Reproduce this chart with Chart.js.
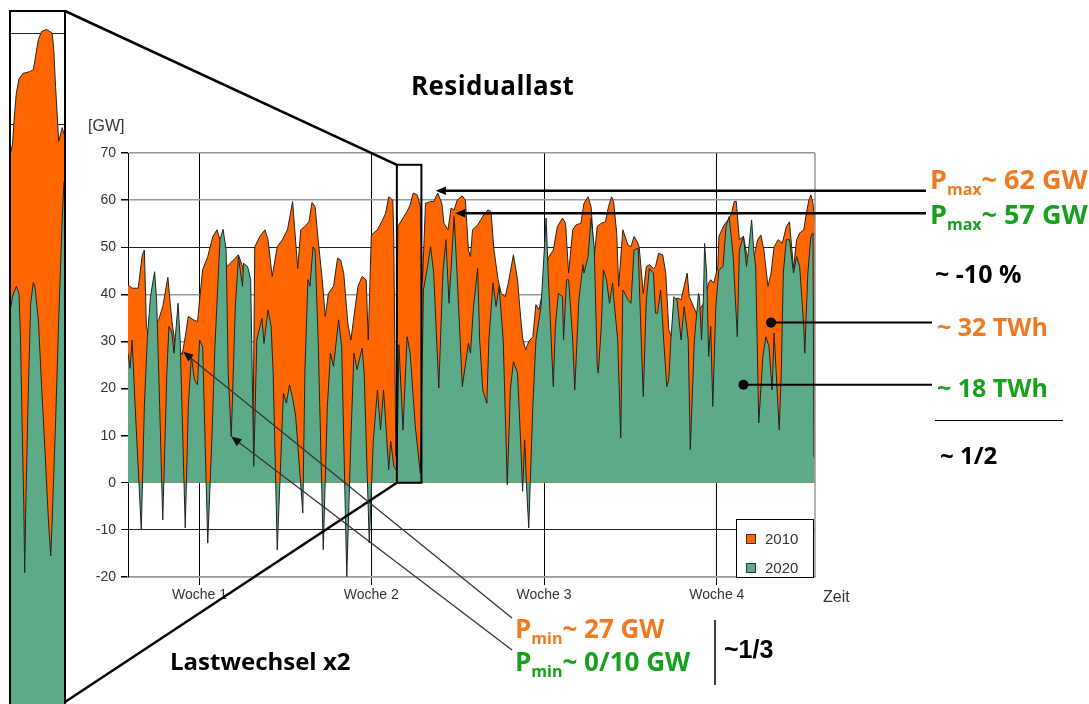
<!DOCTYPE html>
<html>
<head>
<meta charset="utf-8">
<script src="https://cdn.jsdelivr.net/npm/chart.js@4.4.1/dist/chart.umd.min.js"></script>
<style>
  body { margin: 0; background: #fff; }
  #wrap { position: relative; width: 1089px; height: 704px; overflow: hidden; }
  #main { position: absolute; left: 0; top: 0; }
  #zoombox { position: absolute; left: 9px; top: 10px; width: 53px; height: 700px; border: 2px solid #000; background: #fff; overflow: hidden; }
  .t { position: absolute; white-space: nowrap; line-height: 1; font-family: "Open Sans", sans-serif; font-weight: 700; }
  .t sub { font-size: 16px; vertical-align: -6px; line-height: 0; }
  .small { font-family: "Liberation Sans", Arial, sans-serif; font-weight: 400; font-size: 16px; color: #333; }
  .orange { color: #f07a22; }
  .green { color: #17a01c; }
  #legend { position: absolute; left: 736px; top: 519px; width: 76px; height: 57px; border: 1px solid #000; background: #fff;
            font: 15px "Liberation Sans", Arial, sans-serif; color: #333; }
  #legend div { position: absolute; left: 9px; line-height: 16px; }
  #legend span { display: inline-block; width: 8px; height: 8px; border: 1px solid #333; margin-right: 9px; vertical-align: 0; }
</style>
</head>
<body>
<div id="wrap">
  <canvas id="main" width="1089" height="704"></canvas>
  <div id="zoombox"><canvas id="zoom" width="53" height="700"></canvas></div>

  <div class="t" style="left:411px;top:72px;font-size:26px;letter-spacing:0.4px">Residuallast</div>
  <div class="t small" style="left:88px;top:118px">[GW]</div>
  <div class="t small" style="left:823px;top:589px">Zeit</div>

  <div class="t orange" style="left:930px;top:165px;font-size:27px">P<sub>max</sub>~ 62 GW</div>
  <div class="t green" style="left:930px;top:200px;font-size:27px">P<sub>max</sub>~ 57 GW</div>
  <div class="t" style="left:935px;top:261px;font-size:25px">~ -10 %</div>
  <div class="t orange" style="left:937px;top:314px;font-size:25px">~ 32 TWh</div>
  <div class="t green" style="left:937px;top:375px;font-size:25px">~ 18 TWh</div>
  <div class="t" style="left:940px;top:443px;font-size:24px">~ 1/2</div>

  <div class="t orange" style="left:515px;top:615px;font-size:26px">P<sub>min</sub>~ 27 GW</div>
  <div class="t green" style="left:515px;top:648px;font-size:26px">P<sub>min</sub>~ 0/10 GW</div>
  <div class="t" style="left:724px;top:637px;font-size:25px;font-family:'Liberation Sans',Arial,sans-serif">~1/3</div>
  <div class="t" style="left:170px;top:649px;font-size:24px">Lastwechsel x2</div>

  <div id="legend">
    <div style="top:11px"><span style="background:#ff6600"></span>2010</div>
    <div style="top:40px"><span style="background:#5daa88"></span>2020</div>
  </div>
</div>

<script>
// x in hours over four weeks, y in GW
const weekHours = [70, 238, 407, 576]
const weekLabels = ["Woche 1", "Woche 2", "Woche 3", "Woche 4"]

const hours2010 = [0, 4, 10, 14, 16, 18, 20, 24, 30, 34, 39, 41, 43, 46, 53, 56, 59, 64, 68, 71, 73, 78, 83, 87, 90, 97, 100, 105, 108, 112,
  117, 122, 124, 129, 134, 137, 141, 146, 151, 156, 161, 166, 169, 173, 177, 180, 183, 186, 190, 193, 196, 201, 205, 208, 211, 215, 218,
  221, 225, 229, 233, 235, 238, 244, 249, 252, 255, 259, 260, 262, 264, 269, 273, 276, 279, 283, 286, 288, 291, 296, 299, 303, 307, 309,
  313, 316, 319, 322, 327, 330, 333, 335, 337, 342, 345, 348, 352, 355, 358, 362, 365, 369, 372, 377, 381, 384, 386, 389, 392, 396, 399,
  402, 406, 411, 416, 420, 425, 428, 431, 435, 438, 443, 446, 450, 453, 456, 459, 463, 467, 470, 473, 475, 478, 480, 484, 489, 492, 495,
  498, 500, 504, 507, 510, 514, 516, 519, 523, 526, 529, 532, 534, 538, 541, 544, 547, 549, 556, 563, 568, 570, 573, 577, 578, 583, 587,
  590, 593, 595, 598, 602, 605, 608, 613, 616, 619, 622, 626, 629, 632, 636, 640, 644, 647, 651, 654, 657, 661, 663, 666, 668, 670, 672]
const load2010 = [42, 41.3, 41.3, 48.4, 49.4, 33.2, 31, 32.8, 34.6, 37.4, 43.6, 38.8, 34.2, 29.6, 27.2, 31, 35.3, 34.6, 34.2, 40.9, 45.2,
  48, 52.3, 53.7, 51.6, 45.9, 46.6, 47.7, 48.4, 45.9, 40, 3.5, 50.1, 52.3, 53.7, 51.6, 43.8, 50.1, 51.6, 53.7, 59.7, 45.5, 53.7, 54.4,
  55.4, 59.5, 58.6, 51.6, 43.1, 35.3, 40.2, 41.7, 47.7, 47.3, 44.5, 33.9, 30.3, 35.3, 41.7, 43.8, 43.1, 30.3, 52.6, 53.7, 55.8, 57.2,
  60.7, 60, 51.6, 5.6, 54.4, 56.2, 57.6, 59, 61.5, 61.1, 58.6, 42.4, 59.3, 59.7, 59.7, 61.5, 59.3, 55.1, 53.7, 58.3, 57.9, 60, 60.9, 60,
  49.4, 48, 53.7, 54.7, 55.8, 56.9, 57.9, 57.6, 49.4, 43.1, 40.2, 39.5, 42.4, 48.4, 43.1, 35.3, 30.7, 28.2, 30, 31, 37.8, 36.7, 41, 47.7,
  49.4, 54.4, 56.2, 55.1, 44.5, 53.7, 54.7, 55.1, 59.3, 60.7, 58.6, 48, 54.4, 55.1, 55.4, 58.6, 60.7, 59.7, 53, 41.7, 53.7, 50.5, 50.1,
  52.3, 51.2, 50.1, 40.2, 45.9, 46.3, 45.5, 45.9, 48.7, 48.4, 44.5, 32.5, 30.7, 38.8, 39.2, 38.8, 41.7, 44.5, 39.5, 36, 38, 42.4, 43.1,
  42.4, 45.9, 52.3, 54.7, 55.8, 56.9, 59.7, 59.7, 51.6, 52.3, 48.7, 45.9, 48.7, 51.6, 52.6, 49.4, 41.7, 44.5, 50.1, 51.6, 50.8, 54.4,
  55.4, 45.5, 51.6, 53, 53.7, 56.5, 60, 61.1, 59.3, 55]

const hours2020 = [0, 2, 4, 7, 13, 16, 19, 22, 26, 28, 31, 34, 38, 40, 43, 45, 49, 51, 56, 59, 62, 65, 68, 70, 73, 78, 82, 85, 90, 93, 96,
  98, 101, 105, 108, 112, 113, 117, 120, 123, 126, 131, 133, 137, 140, 142, 146, 152, 155, 158, 161, 164, 171, 173, 176, 178, 181, 183,
  186, 191, 195, 198, 201, 206, 209, 214, 218, 221, 224, 229, 231, 236, 240, 244, 247, 250, 255, 257, 260, 263, 265, 269, 273, 276, 281,
  286, 289, 293, 296, 299, 304, 308, 311, 314, 319, 322, 327, 333, 335, 338, 342, 344, 347, 348, 351, 353, 357, 360, 363, 367, 371, 374,
  377, 381, 384, 386, 388, 390, 392, 396, 399, 404, 409, 411, 416, 418, 421, 425, 426, 429, 431, 435, 437, 441, 445, 446, 450, 453, 456,
  459, 460, 463, 465, 468, 471, 474, 475, 479, 482, 484, 485, 489, 492, 495, 499, 502, 504, 507, 510, 514, 516, 518, 521, 524, 527, 529,
  531, 534, 537, 541, 544, 548, 550, 554, 558, 559, 561, 563, 564, 566, 568, 570, 572, 575, 578, 582, 585, 588, 592, 596, 598, 602, 605,
  607, 610, 612, 614, 617, 621, 624, 627, 630, 632, 637, 639, 641, 644, 647, 651, 654, 657, 661, 662, 665, 668, 670, 671, 672]
const load2020 = [27.5, 24.3, 30.3, 16.2, -10, 16.2, 31, 39.5, 44.8, 38.8, 16.2, -7.9, 23.3, 33.2, 31.8, 27.5, 38.1, 30.3, -9.6, 16.2,
  26.8, 21.9, 20.8, 30.3, 28.9, -12.8, 9.1, 28.9, 51.6, 53.8, 49.4, 23.3, 9.8, 37.4, 48, 41.7, 46.6, 45.9, 43.1, 3.5, 30.3, 34.9, 29.6,
  36.7, 33.2, 23.3, -14.2, 19, 16.9, 20.8, 18, 14.1, -6.4, 23.3, 43.1, 41.7, 50.1, 49.4, 30.3, -14.2, 16.2, 27.5, 24.7, 34.6, 28.9, -19.9,
  9.1, 27.5, 24, 28.6, 23.3, -12.8, 9.1, 19.7, 11.2, 19.7, 2.8, 8.8, 3.5, 2.5, 29.3, 11.2, 31, 27.5, 12, 2, 40.9, 45.9, 50.1, 44.5, 20.1,
  44.5, 51.6, 38.1, 56.5, 43.8, 20.4, 29.6, 27.5, 37.4, 45.5, 30.3, 19.7, 19, 16.9, 30.3, 42.4, 37.4, 41.7, 30.3, -0.4, 19.7, 25.7, 23.3,
  9.1, -1.8, 9.1, -1.5, -9.6, 16.2, 30.3, 37.4, 56.2, 44.5, 20.4, 33.2, 40.2, 39.5, 30.3, 43.1, 43.1, 30.3, 19.7, 38.8, 46.3, 44.5, 48,
  56.2, 50.1, 24.7, 23.3, 33.2, 45.2, 43.1, 38.1, 42.4, 39.5, 30.3, 9.5, 40.9, 40.6, 38.8, 38.1, 49.4, 49.8, 30.3, 18.3, 38.8, 45.5, 44.5,
  36, 36, 40.9, 30.3, 20.4, 21.9, 30.3, 39.5, 38.8, 30.3, 37.4, 30.3, 7, 30.3, 40.2, 39.5, 30.3, 40.2, 50.8, 44.5, 26.8, 33.2, 16.2, 37.4,
  45.2, 45.9, 54.4, 56.5, 48, 31, 49.4, 52.3, 45.9, 49.4, 55.8, 49.4, 45.9, 12.7, 26.8, 31, 28.9, 19.7, 31.8, 11.2, 23.3, 44.5, 51.6,
  51.6, 44.5, 48, 45.9, 33.2, 27.5, 44.5, 52.3, 53, 5.6, 5]

// enlarged window (hours 263 to 287) shown in the box on the left
const zoomHours2010 = [263, 263.7, 264.6, 265.4, 266.6, 268.4, 271.5, 273.1, 273.8, 275.4, 276.9, 279.2, 281.6, 282.3, 283.2, 284.6, 286.2, 287]
const zoomLoad2010 = [47.1, 47.9, 51.2, 53.4, 55, 55.6, 55.8, 56, 57, 59.3, 60.2, 60.4, 60, 58.5, 54.1, 48.2, 49.7, 49]
const zoomHours2020 = [263, 263.7, 265.4, 266.6, 267.3, 268, 268.8, 269.2, 269.7, 270.7, 271.9, 273.1, 273.8, 275.4, 276.9, 278.5, 280,
  281, 281.6, 283.2, 284.6, 286.2, 287]
const zoomLoad2020 = [30.2, 31.3, 32.4, 31.6, 26.9, 17.7, 8.5, 1.2, 8.5, 19.5, 30.5, 32.8, 32.4, 28.7, 21.3, 14, 6.6, 3, 6.6, 17.7, 28.7,
  39.8, 43.8]

const orange = "#ff6600"
const green = "#5daa88"
const edge = "#222"

const pts = (xs, ys) => xs.map((x, i) => ({ x, y: ys[i] }))

function line(ctx, x1, y1, x2, y2) {
  ctx.beginPath()
  ctx.moveTo(x1, y1)
  ctx.lineTo(x2, y2)
  ctx.stroke()
}

function arrow(ctx, x1, y1, x2, y2, w, head) {
  const a = Math.atan2(y2 - y1, x2 - x1)
  ctx.lineWidth = w
  line(ctx, x1, y1, x2 - Math.cos(a) * head * 0.7, y2 - Math.sin(a) * head * 0.7)
  ctx.beginPath()
  ctx.moveTo(x2, y2)
  ctx.lineTo(x2 - head * Math.cos(a - 0.4), y2 - head * Math.sin(a - 0.4))
  ctx.lineTo(x2 - head * Math.cos(a + 0.4), y2 - head * Math.sin(a + 0.4))
  ctx.closePath()
  ctx.fill()
}

// frame, zoom window, arrows and pointers drawn over the chart
const overlay = {
  id: "overlay",
  afterDraw(chart) {
    const { ctx, chartArea: area, scales: { x, y } } = chart
    ctx.save()
    ctx.strokeStyle = "#999"
    ctx.lineWidth = 1.5
    line(ctx, area.right, area.top, area.right, area.bottom)

    ctx.strokeStyle = "#000"
    ctx.fillStyle = "#000"
    const rx1 = x.getPixelForValue(263), rx2 = x.getPixelForValue(287)
    const ry1 = y.getPixelForValue(67.5), ry2 = y.getPixelForValue(0)
    ctx.lineWidth = 2
    ctx.strokeRect(rx1, ry1, rx2 - rx1, ry2 - ry1)
    ctx.lineWidth = 2.5
    line(ctx, 65, 11, rx1, ry1)
    line(ctx, 65, 702, rx1, ry2)

    arrow(ctx, 926, y.getPixelForValue(62), x.getPixelForValue(301), y.getPixelForValue(62), 2.5, 11)
    arrow(ctx, 926, y.getPixelForValue(57.2), x.getPixelForValue(320), y.getPixelForValue(57.2), 2.5, 11)

    ctx.lineWidth = 2
    const d1 = [x.getPixelForValue(629), y.getPixelForValue(34)]
    const d2 = [x.getPixelForValue(602), y.getPixelForValue(20.8)]
    line(ctx, 932, d1[1], d1[0], d1[1])
    line(ctx, 932, d2[1], d2[0], d2[1])
    for (const d of [d1, d2]) {
      ctx.beginPath()
      ctx.arc(d[0], d[1], 5, 0, Math.PI * 2)
      ctx.fill()
    }

    ctx.strokeStyle = "#333"
    ctx.fillStyle = "#111"
    arrow(ctx, 512, 618, x.getPixelForValue(54), y.getPixelForValue(27.8), 1.3, 11)
    arrow(ctx, 512, 650, x.getPixelForValue(101), y.getPixelForValue(9.8), 1.3, 11)

    ctx.strokeStyle = "#000"
    ctx.lineWidth = 1
    line(ctx, 935, 420.5, 1063, 420.5)
    ctx.lineWidth = 1.5
    line(ctx, 715, 620, 715, 685)
    ctx.restore()
  }
}

new Chart(document.getElementById("main"), {
  type: "line",
  data: {
    datasets: [
      { label: "2020", data: pts(hours2020, load2020), borderColor: edge, borderWidth: 1, backgroundColor: green,
        fill: "origin", pointRadius: 0, tension: 0, order: 1 },
      { label: "2010", data: pts(hours2010, load2010), borderColor: edge, borderWidth: 1, backgroundColor: orange,
        fill: "origin", pointRadius: 0, tension: 0, order: 2 }
    ]
  },
  options: {
    responsive: false,
    animation: false,
    devicePixelRatio: 1,
    layout: { padding: { left: 60, top: 153, right: 274, bottom: 97 } },
    plugins: { legend: { display: false }, tooltip: { enabled: false } },
    scales: {
      x: {
        type: "linear", min: 0, max: 672,
        afterBuildTicks: s => { s.ticks = weekHours.map(v => ({ value: v })) },
        afterFit: s => { s.height = 30 },
        ticks: { callback: v => weekLabels[weekHours.indexOf(v)], autoSkip: false, maxRotation: 0, padding: 2,
                 color: "#333", font: { family: "Liberation Sans", size: 14 } },
        grid: { color: "#000", lineWidth: 1, tickLength: 8 },
        border: { color: "#999", width: 1.5 }
      },
      y: {
        min: -20, max: 70,
        afterFit: s => { s.width = 68 },
        ticks: { stepSize: 10, padding: 5, color: "#333", font: { family: "Liberation Sans", size: 14 } },
        grid: {
          color: c => [0, 50, -10].includes(c.tick.value) ? "#222" : "#999",
          lineWidth: c => [0, 50, -10].includes(c.tick.value) ? 1 : 1.5,
          tickLength: 7, tickColor: "#000"
        },
        border: { color: "#000", width: 1 }
      }
    }
  },
  plugins: [overlay]
})

new Chart(document.getElementById("zoom"), {
  type: "line",
  data: {
    datasets: [
      { data: pts(zoomHours2020, zoomLoad2020), borderColor: edge, borderWidth: 1, backgroundColor: green,
        fill: "start", pointRadius: 0, tension: 0, order: 1 },
      { data: pts(zoomHours2010, zoomLoad2010), borderColor: edge, borderWidth: 1, backgroundColor: orange,
        fill: "start", pointRadius: 0, tension: 0, order: 2 }
    ]
  },
  options: {
    responsive: false,
    animation: false,
    devicePixelRatio: 1,
    layout: { padding: 0 },
    plugins: { legend: { display: false }, tooltip: { enabled: false } },
    scales: {
      x: { type: "linear", min: 263, max: 287, display: false },
      y: {
        min: -14, max: 62.3,
        afterBuildTicks: s => { s.ticks = [{ value: 50 }, { value: 60 }] },
        afterFit: s => { s.width = 0 },
        ticks: { display: false },
        grid: { color: "#222", drawTicks: false },
        border: { display: false }
      }
    }
  }
})
</script>
</body>
</html>
